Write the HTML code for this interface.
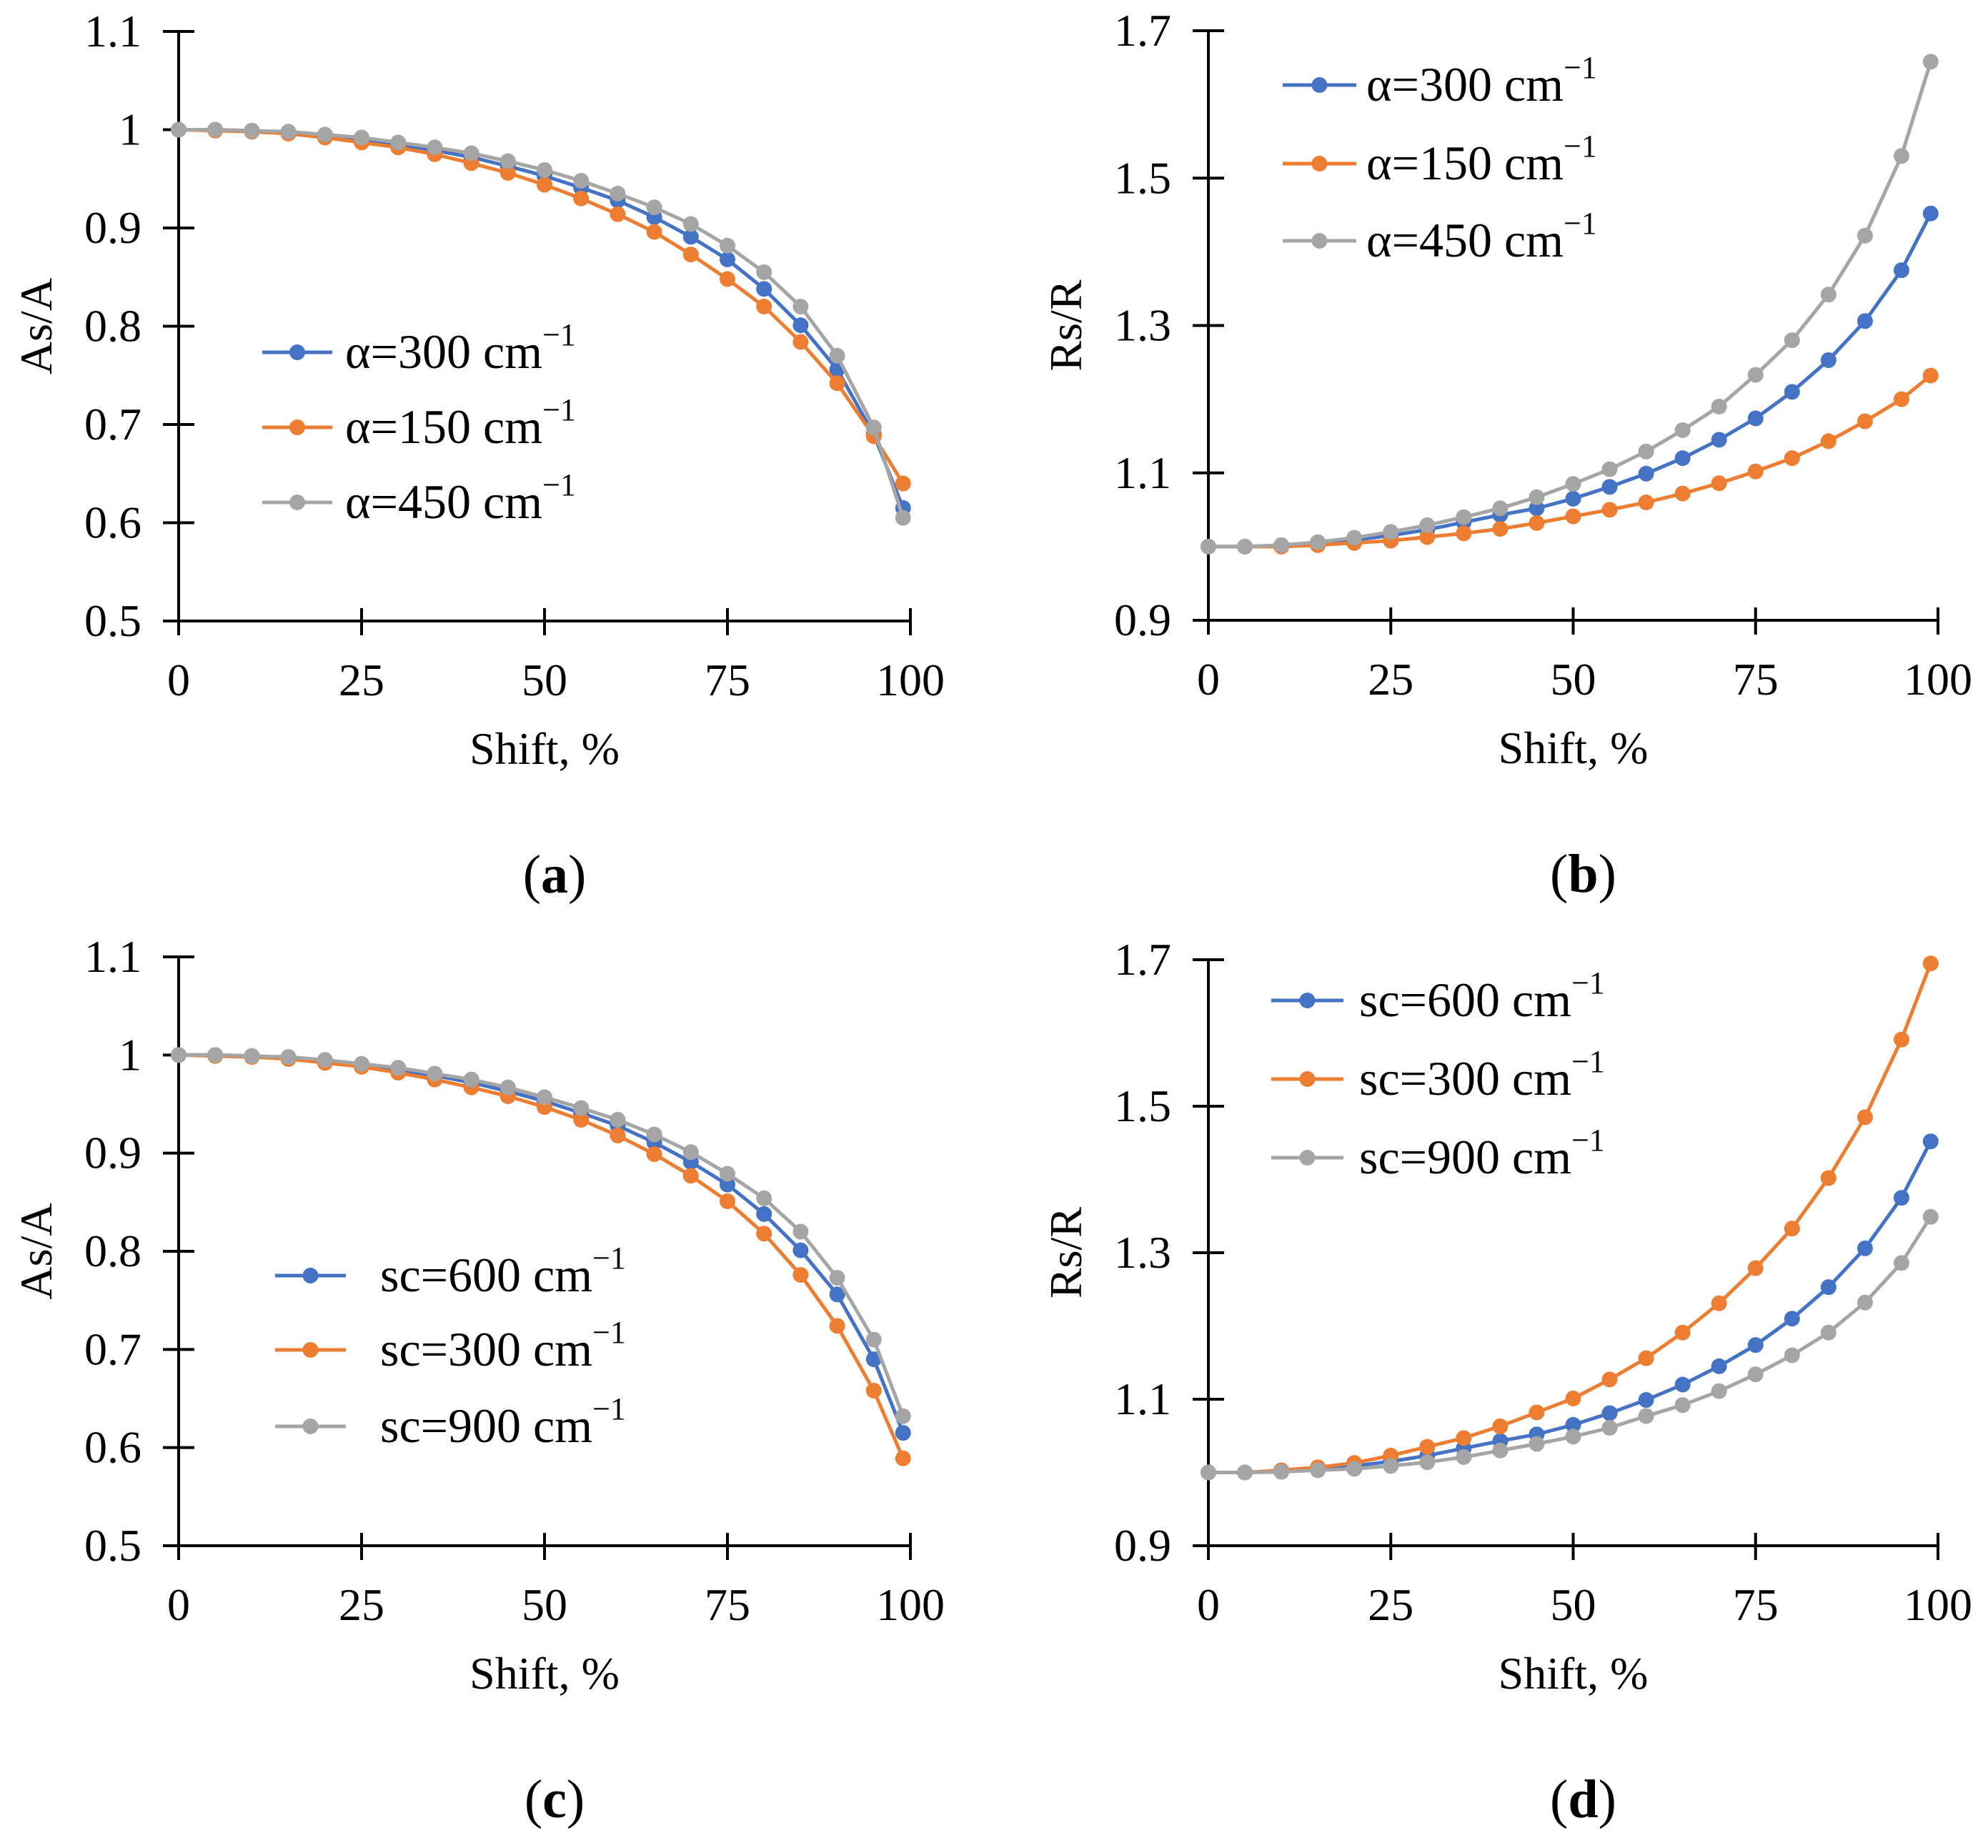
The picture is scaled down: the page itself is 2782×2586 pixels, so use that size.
<!DOCTYPE html>
<html><head><meta charset="utf-8">
<style>
html,body{margin:0;padding:0;background:#fff;}
svg{display:block;}
svg text{font-family:"Liberation Serif","DejaVu Serif",serif;}
</style></head>
<body>
<svg id="fig" width="2782" height="2586" viewBox="0 0 2782 2586" font-family="Liberation Serif, DejaVu Serif, serif"></svg>
<script>
const xVals = [0,5,10,15,20,25,30,35,40,45,50,55,60,65,70,75,80,85,90,95,99];
const xTicks = [0,25,50,75,100];
const yTicksA = [0.5,0.6,0.7,0.8,0.9,1,1.1];
const yTicksB = [0.9,1.1,1.3,1.5,1.7];
const yTickLabelsA = ["0.5","0.6","0.7","0.8","0.9","1","1.1"];
const yTickLabelsB = ["0.9","1.1","1.3","1.5","1.7"];

const aBlue = [1,1,0.999,0.997,0.994,0.99,0.985,0.979,0.972,0.963,0.953,0.941,0.928,0.911,0.891,0.868,0.838,0.801,0.756,0.69,0.615];
const aOrange = [1,0.999,0.998,0.996,0.992,0.987,0.982,0.975,0.966,0.956,0.944,0.930,0.914,0.896,0.873,0.848,0.820,0.784,0.742,0.688,0.64];
const aGray = [1,1,0.999,0.998,0.995,0.992,0.987,0.982,0.976,0.968,0.959,0.948,0.935,0.921,0.904,0.882,0.855,0.820,0.770,0.697,0.605];

const bBlue = [1,1,1.001,1.004,1.009,1.015,1.023,1.033,1.043,1.052,1.065,1.081,1.099,1.12,1.145,1.174,1.21,1.253,1.306,1.375,1.452];
const bOrange = [1,1,1,1.002,1.005,1.008,1.013,1.018,1.024,1.032,1.041,1.05,1.06,1.072,1.086,1.102,1.12,1.143,1.17,1.2,1.232];
const bGray = [1,1,1.002,1.006,1.012,1.02,1.029,1.04,1.052,1.067,1.085,1.105,1.129,1.158,1.19,1.233,1.28,1.342,1.422,1.53,1.658];

const cBlue = [1,1,0.999,0.997,0.994,0.99,0.985,0.979,0.972,0.963,0.953,0.941,0.928,0.911,0.891,0.868,0.838,0.801,0.756,0.69,0.615];
const cOrange = [1,0.999,0.998,0.996,0.992,0.988,0.982,0.975,0.967,0.958,0.947,0.934,0.918,0.899,0.877,0.851,0.818,0.776,0.724,0.658,0.589];
const cGray = [1,1,0.999,0.998,0.995,0.991,0.987,0.981,0.975,0.967,0.957,0.946,0.934,0.919,0.901,0.879,0.854,0.82,0.773,0.71,0.632];

const dBlue = [1,1,1.001,1.004,1.009,1.015,1.023,1.033,1.043,1.052,1.065,1.081,1.099,1.12,1.145,1.174,1.21,1.253,1.306,1.375,1.452];
const dOrange = [1,1,1.003,1.007,1.013,1.023,1.035,1.047,1.063,1.082,1.101,1.127,1.156,1.191,1.231,1.279,1.333,1.402,1.485,1.591,1.695];
const dGray = [1,1,1.001,1.003,1.005,1.009,1.014,1.021,1.03,1.039,1.049,1.061,1.077,1.092,1.111,1.134,1.16,1.191,1.232,1.286,1.349];

const BLUE="#4472C4", ORANGE="#ED7D31", GRAY="#A5A5A5";
const FONT="Liberation Serif, DejaVu Serif, serif";
const NS="http://www.w3.org/2000/svg";
const svg=document.getElementById('fig');
function mk(tag,attrs,parent){const e=document.createElementNS(NS,tag);for(const k in attrs)e.setAttribute(k,attrs[k]);if(tag==='text')e.setAttribute('font-family',FONT);(parent||svg).appendChild(e);return e;}

function panel(cfg){
  const g=mk('g',{});
  
  
  const X=v=>cfg.x0+(v-0)/(100-0)*(cfg.x1-cfg.x0);
  const Y=v=>cfg.yB+(v-cfg.ymin)/(cfg.ymax-cfg.ymin)*(cfg.yT-cfg.yB);
  const ya=mk('line',{x1:cfg.x0,y1:cfg.yT,x2:cfg.x0,y2:cfg.yB,stroke:'#000','stroke-width':4},g);
  
  
  const xa=mk('line',{x1:cfg.x0,y1:cfg.yB,x2:cfg.x1,y2:cfg.yB,stroke:'#000','stroke-width':4},g);
  
  
  cfg.yt.forEach((v,i)=>{
    const y=Y(v);
    mk('line',{x1:cfg.x0-22,y1:y,x2:cfg.x0+22,y2:y,stroke:'#000','stroke-width':4},g);
    const t=mk('text',{x:cfg.x0-52,y:y+21,'text-anchor':'end','font-size':64,fill:'#000'},g);
    t.textContent=cfg.ytl[i];
    
    
  });
  xTicks.forEach(v=>{
    const x=X(v);
    mk('line',{x1:x,y1:cfg.yB-18,x2:x,y2:cfg.yB+20,stroke:'#000','stroke-width':4},g);
    const t=mk('text',{x:x,y:cfg.yB+104,'text-anchor':'middle','font-size':64,fill:'#000'},g);
    t.textContent=String(v);
    
    
  });
  const xt=mk('text',{x:(cfg.x0+cfg.x1)/2,y:cfg.yB+200,'text-anchor':'middle','font-size':64,fill:'#000'},g);
  xt.textContent='Shift, %';
  
  
  const cy=(cfg.yT+cfg.yB)/2;
  const yt=mk('text',{x:0,y:0,'text-anchor':'middle','font-size':64,fill:'#000',transform:`translate(${cfg.x0-178},${cy}) rotate(-90)`},g);
  yt.textContent=cfg.ytitle;
  
  
  cfg.series.forEach(s=>{
    const sg=mk('g',{},g);
    
    
    const pts=s.data.map((v,i)=>X(xVals[i]).toFixed(1)+','+Y(v).toFixed(1)).join(' ');
    mk('polyline',{points:pts,fill:'none',stroke:s.color,'stroke-width':5,'stroke-linejoin':'round'},sg);
    s.data.forEach((v,i)=>{
      const c=mk('circle',{cx:X(xVals[i]),cy:Y(v),r:11,fill:s.color},sg);
      
      
    });
  });
  cfg.legend.forEach(l=>{
    const lg=mk('g',{},g);
    
    
    mk('line',{x1:cfg.lx0,y1:l.y,x2:cfg.lx1,y2:l.y,stroke:l.color,'stroke-width':5},lg);
    mk('circle',{cx:(cfg.lx0+cfg.lx1)/2,cy:l.y,r:11,fill:l.color},lg);
    const t=mk('text',{x:cfg.tx,y:l.y+22,'font-size':68,fill:'#000'},lg);
    t.textContent=l.label+' cm';
    const sup=mk('tspan',{'font-size':44,dy:-32},t);
    sup.textContent='\u22121';
  });
  const pl=mk('text',{x:(cfg.x0+cfg.x1)/2+14,y:cfg.yB+380,'text-anchor':'middle','font-size':76,fill:'#000'},g);
  pl.innerHTML='(<tspan font-weight="bold">'+cfg.letter+'</tspan>)';
  
  
}

panel({name:'panel-a',x0:250,x1:1274,yT:44,yB:869,ymin:0.5,ymax:1.1,yt:yTicksA,ytl:yTickLabelsA,ytitle:'As/A',letter:'a',
  series:[{key:'alpha-300',data:aBlue,color:BLUE},{key:'alpha-150',data:aOrange,color:ORANGE},{key:'alpha-450',data:aGray,color:GRAY}],
  lx0:367,lx1:465,tx:483,
  legend:[{y:493,color:BLUE,label:'\u03b1=300'},{y:598,color:ORANGE,label:'\u03b1=150'},{y:703,color:GRAY,label:'\u03b1=450'}]});
panel({name:'panel-b',x0:1691,x1:2712,yT:43,yB:868,ymin:0.9,ymax:1.7,yt:yTicksB,ytl:yTickLabelsB,ytitle:'Rs/R',letter:'b',
  series:[{key:'alpha-300',data:bBlue,color:BLUE},{key:'alpha-150',data:bOrange,color:ORANGE},{key:'alpha-450',data:bGray,color:GRAY}],
  lx0:1795,lx1:1898,tx:1912,
  legend:[{y:119,color:BLUE,label:'\u03b1=300'},{y:229,color:ORANGE,label:'\u03b1=150'},{y:337,color:GRAY,label:'\u03b1=450'}]});
panel({name:'panel-c',x0:250,x1:1274,yT:1339,yB:2163,ymin:0.5,ymax:1.1,yt:yTicksA,ytl:yTickLabelsA,ytitle:'As/A',letter:'c',
  series:[{key:'sc-600',data:cBlue,color:BLUE},{key:'sc-300',data:cOrange,color:ORANGE},{key:'sc-900',data:cGray,color:GRAY}],
  lx0:385,lx1:484,tx:532,
  legend:[{y:1785,color:BLUE,label:'sc=600'},{y:1889,color:ORANGE,label:'sc=300'},{y:1996,color:GRAY,label:'sc=900'}]});
panel({name:'panel-d',x0:1691,x1:2712,yT:1343,yB:2163,ymin:0.9,ymax:1.7,yt:yTicksB,ytl:yTickLabelsB,ytitle:'Rs/R',letter:'d',
  series:[{key:'sc-600',data:dBlue,color:BLUE},{key:'sc-300',data:dOrange,color:ORANGE},{key:'sc-900',data:dGray,color:GRAY}],
  lx0:1779,lx1:1880,tx:1902,
  legend:[{y:1400,color:BLUE,label:'sc=600'},{y:1510,color:ORANGE,label:'sc=300'},{y:1620,color:GRAY,label:'sc=900'}]});
</script>
</body></html>
